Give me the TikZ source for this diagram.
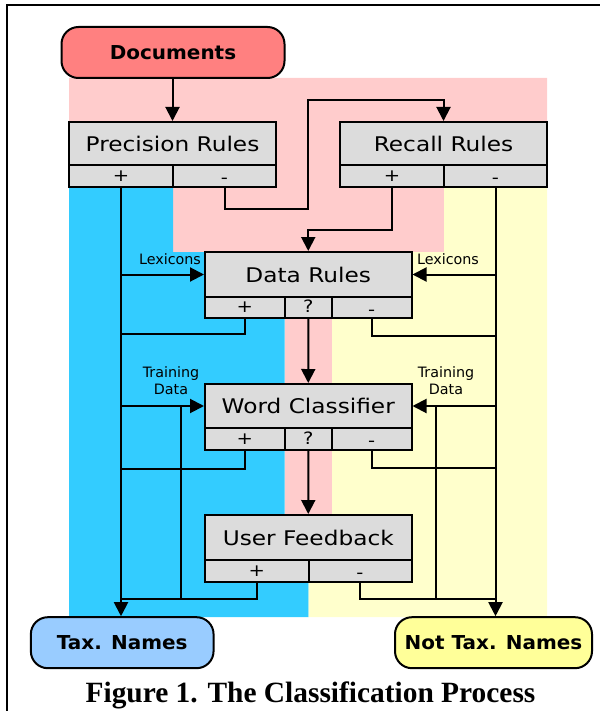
\documentclass[tikz,border=0pt]{standalone}
\usepackage{fontspec}
\usetikzlibrary{arrows.meta}
\newfontfamily\boxfont[FakeStretch=1.15]{DejaVu Sans}
\newfontfamily\termfont[FakeStretch=1.04]{DejaVu Sans}
\newfontfamily\lblfont{DejaVu Sans}
\newfontfamily\capfont{Liberation Serif}
\definecolor{pinkbg}{HTML}{FFCCCC}
\definecolor{bluebg}{HTML}{33CCFF}
\definecolor{yellowbg}{HTML}{FFFFCC}
\definecolor{docred}{HTML}{FF8080}
\definecolor{boxgray}{HTML}{DCDCDC}
\definecolor{taxblue}{HTML}{99CCFF}
\definecolor{notyellow}{HTML}{FFFF99}
\newcommand\mymin{\raisebox{-2.5pt}{-}}
\tikzset{
  cell/.style={draw, fill=boxgray, line width=2pt, inner sep=0pt, anchor=center},
  big/.style={cell, minimum width=206.5pt, font=\boxfont\fontsize{20.2}{24}\selectfont},
  small/.style={cell, minimum height=22pt, text height=10.8pt, text depth=0pt, font=\boxfont\fontsize{17}{20}\selectfont},
  term/.style={draw, line width=2pt, rounded corners=17pt, inner sep=0pt, minimum height=51pt, font=\termfont\bfseries\fontsize{19.2}{23}\selectfont},
  lbl/.style={font=\lblfont\fontsize{14.3}{17}\selectfont, align=center, inner sep=0pt},
  conn/.style={line width=2pt},
  arr/.style={conn, -{Triangle[length=14pt,width=14pt]}}
}
\begin{document}
\begin{tikzpicture}[x=1pt,y=-1pt]
\useasboundingbox (0,0) rectangle (600,711);
% frame
\draw[line width=2pt] (7,711) -- (7,5) -- (600,5);
% backgrounds
\fill[pinkbg] (69,78) -- (547,78) -- (547,187) -- (444,187) -- (444,252) -- (332,252) -- (332,515) -- (284.6,515) -- (284.6,252) -- (173,252) -- (173,187) -- (69,187) -- cycle;
\fill[bluebg] (69,187) -- (173,187) -- (173,252) -- (284.6,252) -- (284.6,515) -- (308.5,515) -- (308.5,617) -- (69,617) -- cycle;
\fill[yellowbg] (444,187) -- (547,187) -- (547,617) -- (308.5,617) -- (308.5,515) -- (332,515) -- (332,252) -- (444,252) -- cycle;

% terminals
\node[term, fill=docred, minimum width=223pt] (docs) at (173,52.5) {Documents};
\node[term, fill=taxblue, minimum width=182.7pt] (tax) at (122.2,642.7) {Tax. Names};
\node[term, fill=notyellow, minimum width=197pt] (nottax) at (493.5,642.7) {Not Tax. Names};

% Precision Rules
\node[big, minimum width=207pt, minimum height=43pt] (prT) at (172.5,143.5) {Precision Rules};
\node[small, minimum width=104pt] (prP) at (121,176) {+};
\node[small, minimum width=103pt] (prM) at (224.5,176) {\mymin};
% Recall Rules
\node[big, minimum width=207pt, minimum height=43pt] (rrT) at (443.5,143.5) {Recall Rules};
\node[small, minimum width=104pt] (rrP) at (392,176) {+};
\node[small, minimum width=103pt] (rrM) at (495.5,176) {\mymin};
% Data Rules
\node[big, minimum height=45pt] (drT) at (308.25,274.5) {Data Rules};
\node[small, minimum width=79.6pt, minimum height=21pt] (drP) at (244.8,307.5) {+};
\node[small, minimum width=47.4pt, minimum height=21pt] (drQ) at (308.3,307.5) {?};
\node[small, minimum width=79.5pt, minimum height=21pt] (drM) at (371.75,307.5) {\mymin};
% Word Classifier
\node[big, minimum height=44pt] (wcT) at (308.25,406) {Word Classifier};
\node[small, minimum width=79.6pt] (wcP) at (244.8,439) {+};
\node[small, minimum width=47.4pt] (wcQ) at (308.3,439) {?};
\node[small, minimum width=79.5pt] (wcM) at (371.75,439) {\mymin};
% User Feedback
\node[big, minimum height=45pt] (ufT) at (308.25,537.5) {User Feedback};
\node[small, minimum width=103.5pt] (ufP) at (256.75,571) {+};
\node[small, minimum width=103pt] (ufM) at (360,571) {\mymin};

% labels
\node[lbl] (lexL) at (170,259) {Lexicons};
\node[lbl] (lexR) at (448,259) {Lexicons};
\node[lbl] (trL) at (171,381) {Training\\Data};
\node[lbl] (trR) at (446,381) {Training\\Data};

% caption
\node[font=\capfont\bfseries\fontsize{29.4}{34}\selectfont, inner sep=0pt, anchor=base] (cap) at (310.5,702) {Figure 1. The Classification Process};

% junction coordinates
\coordinate (jA) at (308,209);
\coordinate (jB) at (308,100);
\coordinate (jC) at (308.25,230);
\coordinate (jD) at (121,334);
\coordinate (jE) at (495.5,336);
\coordinate (jF) at (121,469);
\coordinate (jG) at (495.5,468);
\coordinate (jH) at (121,599);
\coordinate (jI) at (495.5,599);
\coordinate (tlA) at (181,406);
\coordinate (tlB) at (181,599);
\coordinate (trA) at (436,406);
\coordinate (trB) at (436,599);

% connectors
\draw[arr] (docs.south -| prT.north) -- (prT.north);
\draw[arr] (prM.south) |- (jA) -- (jB) -| (rrT.north);
\draw[arr] (rrP.south) |- (jC) -- (drT.north);
\draw[arr] (prP.south) -- (prP.south |- tax.north);
\draw[arr] (rrM.south) -- (rrM.south |- nottax.north);
\draw[arr] (prP.south |- drT.west) -- (drT.west);
\draw[arr] (rrM.south |- drT.east) -- (drT.east);
\draw[conn] (drP.south) |- (jD);
\draw[conn] (drM.south) |- (jE);
\draw[arr] (drQ.south) -- (wcT.north);
\draw[arr] (prP.south |- wcT.west) -- (wcT.west);
\draw[arr] (rrM.south |- wcT.east) -- (wcT.east);
\draw[conn] (wcP.south) |- (jF);
\draw[conn] (wcM.south) |- (jG);
\draw[arr] (wcQ.south) -- (ufT.north);
\draw[conn] (ufP.south) |- (jH);
\draw[conn] (ufM.south) |- (jI);
\draw[conn] (tlB) -- (tlA);
\draw[conn] (trB) -- (trA);
\end{tikzpicture}
\end{document}
